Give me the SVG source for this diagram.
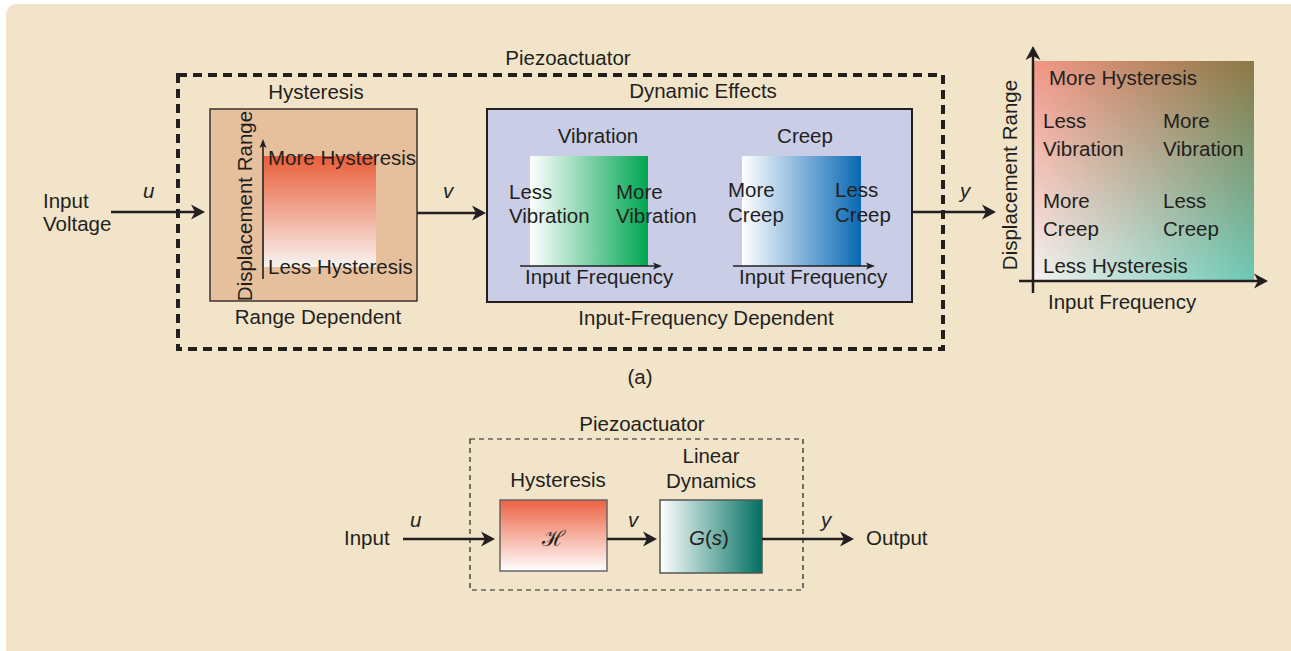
<svg xmlns="http://www.w3.org/2000/svg" width="1291" height="651" viewBox="0 0 1291 651">
  <style>
    text { font-family: "Liberation Sans", Arial, sans-serif; font-size: 20.5px; fill: #231f20; }
    .mid { text-anchor: middle; }
    .it { font-style: italic; }
    .wire { stroke: #231f20; stroke-width: 2.5; fill: none; }
    .axis { stroke: #231f20; stroke-width: 1.6; fill: none; }
  </style>
  <defs>
    <marker id="head" viewBox="-11 -8 16 16" refX="0" refY="0" markerWidth="16" markerHeight="16" markerUnits="userSpaceOnUse" orient="auto">
      <path d="M4,0 L-10,-7.5 L-6,0 L-10,7.5 Z" fill="#231f20"/>
    </marker>
    <marker id="headSmall" viewBox="-8 -5 12 10" refX="0" refY="0" markerWidth="12" markerHeight="10" markerUnits="userSpaceOnUse" orient="auto">
      <path d="M3,0 L-6,-3.5 L-4,0 L-6,3.5 Z" fill="#231f20"/>
    </marker>
    <linearGradient id="gHyst" x1="0" y1="0" x2="0" y2="1">
      <stop offset="0" stop-color="#e95e38"/>
      <stop offset="1" stop-color="#f8f3f1"/>
    </linearGradient>
    <linearGradient id="gVib" x1="0" y1="0" x2="1" y2="0">
      <stop offset="0" stop-color="#ffffff"/>
      <stop offset="1" stop-color="#00a651"/>
    </linearGradient>
    <linearGradient id="gCreep" x1="0" y1="0" x2="1" y2="0">
      <stop offset="0" stop-color="#ffffff"/>
      <stop offset="1" stop-color="#0868b4"/>
    </linearGradient>
    <linearGradient id="gMapTop" x1="0" y1="0" x2="1" y2="0">
      <stop offset="0" stop-color="#f29686"/>
      <stop offset="1" stop-color="#8a7845"/>
    </linearGradient>
    <linearGradient id="gMapBottom" x1="0" y1="0" x2="1" y2="0">
      <stop offset="0" stop-color="#f6f2f0"/>
      <stop offset="1" stop-color="#6cc9b5"/>
    </linearGradient>
    <linearGradient id="gFade" x1="0" y1="0" x2="0" y2="1">
      <stop offset="0" stop-color="#ffffff" stop-opacity="1"/>
      <stop offset="1" stop-color="#ffffff" stop-opacity="0"/>
    </linearGradient>
    <mask id="mFade" maskContentUnits="userSpaceOnUse">
      <rect x="1033" y="61" width="221" height="219" fill="url(#gFade)"/>
    </mask>
    <linearGradient id="gH2" x1="0" y1="0" x2="0" y2="1">
      <stop offset="0" stop-color="#ec6243"/>
      <stop offset="1" stop-color="#ffffff"/>
    </linearGradient>
    <linearGradient id="gG2" x1="0" y1="0" x2="1" y2="0">
      <stop offset="0" stop-color="#ffffff"/>
      <stop offset="1" stop-color="#007060"/>
    </linearGradient>
  </defs>

  <!-- card -->
  <rect x="0" y="0" width="1291" height="651" fill="#ffffff"/>
  <rect x="6" y="4" width="1300" height="660" rx="11" fill="#f1e4c9"/>

  <!-- (a) piezoactuator boundary -->
  <g id="piezo-a">
    <rect x="178" y="75" width="765" height="274" fill="none" stroke="#231f20" stroke-width="4" stroke-dasharray="9 6"/>
    <text class="mid" x="568" y="65">Piezoactuator</text>
  </g>

  <g id="input-voltage">
    <text x="43" y="208">Input</text>
    <text x="43" y="231">Voltage</text>
  </g>

  <!-- hysteresis block -->
  <g id="hysteresis-a">
    <text class="mid" x="316" y="99">Hysteresis</text>
    <rect x="210" y="109" width="207" height="192" fill="#e6bf9d" stroke="#3a3230" stroke-width="1.5"/>
    <rect x="264" y="156" width="112" height="111" fill="url(#gHyst)"/>
    <line class="axis" x1="263" y1="279" x2="263" y2="142" marker-end="url(#headSmall)"/>
    <text class="mid" transform="translate(252 206) rotate(-90)">Displacement Range</text>
    <text x="268" y="165">More Hysteresis</text>
    <text x="268" y="274">Less Hysteresis</text>
    <text class="mid" x="318" y="324">Range Dependent</text>
  </g>

  <!-- dynamic effects block -->
  <g id="dynamic-effects">
    <text class="mid" x="703" y="98">Dynamic Effects</text>
    <rect x="487" y="109" width="425" height="193" fill="#c9cde6" stroke="#231f20" stroke-width="2"/>
    <text class="mid" x="706" y="325">Input-Frequency Dependent</text>
  </g>

  <g id="vibration">
    <text class="mid" x="598" y="143">Vibration</text>
    <rect x="530" y="156" width="118" height="110" fill="url(#gVib)"/>
    <line class="axis" x1="520" y1="266" x2="659" y2="266" marker-end="url(#headSmall)"/>
    <text x="509" y="199">Less</text>
    <text x="509" y="223">Vibration</text>
    <text x="616" y="199">More</text>
    <text x="616" y="223">Vibration</text>
    <text x="525" y="284">Input Frequency</text>
  </g>

  <g id="creep">
    <text class="mid" x="805" y="143">Creep</text>
    <rect x="742" y="156" width="119" height="110" fill="url(#gCreep)"/>
    <line class="axis" x1="733" y1="266" x2="872" y2="266" marker-end="url(#headSmall)"/>
    <text x="728" y="197">More</text>
    <text x="728" y="222">Creep</text>
    <text x="835" y="197">Less</text>
    <text x="835" y="222">Creep</text>
    <text x="739" y="284">Input Frequency</text>
  </g>

  <!-- combined behaviour map -->
  <g id="behaviour-map">
    <rect x="1033" y="61" width="221" height="219" fill="url(#gMapBottom)"/>
    <rect x="1033" y="61" width="221" height="219" fill="url(#gMapTop)" mask="url(#mFade)"/>
    <line class="wire" stroke-width="3" x1="1033" y1="293" x2="1033" y2="50" marker-end="url(#head)"/>
    <line class="wire" stroke-width="3" x1="1019" y1="281" x2="1264" y2="281" marker-end="url(#head)"/>
    <text class="mid" transform="translate(1017 175) rotate(-90)">Displacement Range</text>
    <text x="1049" y="85">More Hysteresis</text>
    <text x="1043" y="128">Less</text>
    <text x="1043" y="156">Vibration</text>
    <text x="1163" y="128">More</text>
    <text x="1163" y="156">Vibration</text>
    <text x="1043" y="208">More</text>
    <text x="1043" y="236">Creep</text>
    <text x="1163" y="208">Less</text>
    <text x="1163" y="236">Creep</text>
    <text x="1043" y="273">Less Hysteresis</text>
    <text x="1048" y="309">Input Frequency</text>
  </g>

  <text class="mid" x="640" y="384">(a)</text>

  <!-- (b) block model -->
  <g id="piezo-b">
    <rect x="470" y="439" width="333" height="151" fill="none" stroke="#231f20" stroke-width="1.2" stroke-dasharray="5 4"/>
    <text class="mid" x="642" y="431">Piezoactuator</text>
  </g>

  <g id="hysteresis-b">
    <text class="mid" x="558" y="487">Hysteresis</text>
    <rect x="500" y="500" width="107" height="71" fill="url(#gH2)" stroke="#666666" stroke-width="1.5"/>
    <text class="mid" x="553" y="546" style="font-family: 'DejaVu Serif', 'Liberation Serif', serif; font-size: 22px;">ℋ</text>
  </g>

  <g id="linear-dynamics">
    <text class="mid" x="711" y="463">Linear</text>
    <text class="mid" x="711" y="488">Dynamics</text>
    <rect x="660" y="500" width="102" height="73" fill="url(#gG2)" stroke="#555555" stroke-width="1.5"/>
    <text class="mid" x="709" y="545"><tspan class="it">G</tspan>(<tspan class="it">s</tspan>)</text>
  </g>

  <g id="io-b">
    <text x="344" y="545">Input</text>
    <text x="866" y="545">Output</text>
  </g>

  <!-- connectors -->
  <g id="connectors">
    <line class="wire" x1="111" y1="212" x2="201" y2="212" marker-end="url(#head)"/>
    <line class="wire" x1="417" y1="213" x2="482" y2="213" marker-end="url(#head)"/>
    <line class="wire" x1="912" y1="212" x2="992" y2="212" marker-end="url(#head)"/>
    <line class="wire" x1="403" y1="539" x2="491" y2="539" marker-end="url(#head)"/>
    <line class="wire" x1="607" y1="539" x2="653" y2="539" marker-end="url(#head)"/>
    <line class="wire" x1="762" y1="539" x2="850" y2="539" marker-end="url(#head)"/>
    <text class="it" x="143" y="198">u</text>
    <text class="it" x="443" y="198">v</text>
    <text class="it" x="960" y="198">y</text>
    <text class="it" x="410" y="527">u</text>
    <text class="it" x="628" y="527">v</text>
    <text class="it" x="821" y="527">y</text>
  </g>
</svg>
